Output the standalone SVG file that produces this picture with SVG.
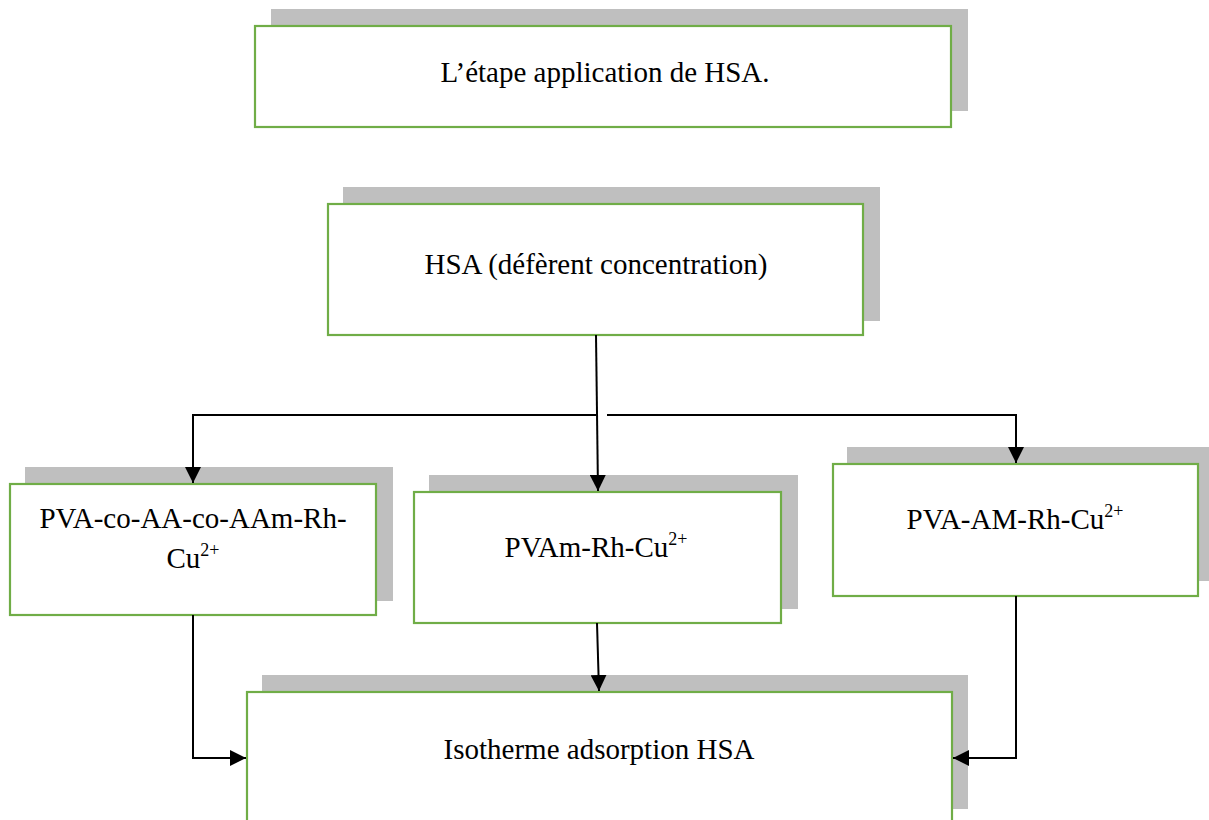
<svg xmlns="http://www.w3.org/2000/svg" width="1209" height="820" viewBox="0 0 1209 820">
<style>
.shadow{fill:#bfbfbf;}
.box{fill:#ffffff;stroke:#70ad47;stroke-width:2.2;}
.lbl{font-family:"Liberation Serif","Times New Roman",serif;font-size:29px;fill:#000000;text-anchor:middle;}
.sup{font-size:18px;}
.conn{fill:none;stroke:#000000;stroke-width:2;}
</style>
<defs>
<marker id="arrow" markerUnits="userSpaceOnUse" markerWidth="16" markerHeight="16" refX="16" refY="8" orient="auto">
<path d="M0,0 L16,8 L0,16 Z" fill="#000000"/>
</marker>
</defs>
<rect width="1209" height="820" fill="#ffffff"/>
<g id="node-etape">
<rect class="shadow" x="271" y="9" width="697" height="102"/>
<rect class="box" x="255" y="26" width="696" height="101"/>
<text class="lbl" x="605" y="82" font-family="Liberation Serif, serif">L’étape application de HSA.</text>
</g>
<g id="node-hsa">
<rect class="shadow" x="343" y="187" width="537" height="134"/>
<rect class="box" x="328" y="204" width="535" height="131"/>
<text class="lbl" x="596" y="274" font-family="Liberation Serif, serif">HSA (défèrent concentration)</text>
</g>
<g id="node-pva-co">
<rect class="shadow" x="25" y="467" width="368" height="134"/>
<rect class="box" x="10" y="484" width="366" height="131"/>
<text class="lbl" x="193" y="528" font-family="Liberation Serif, serif">PVA-co-AA-co-AAm-Rh-</text>
<text class="lbl" x="193" y="568" font-family="Liberation Serif, serif">Cu<tspan class="sup" dy="-12">2+</tspan></text>
</g>
<g id="node-pvam">
<rect class="shadow" x="429" y="475" width="369" height="134"/>
<rect class="box" x="414" y="492" width="367" height="131"/>
<text class="lbl" x="596" y="557" font-family="Liberation Serif, serif">PVAm-Rh-Cu<tspan class="sup" dy="-12">2+</tspan></text>
</g>
<g id="node-pva-am">
<rect class="shadow" x="847" y="447" width="362" height="134"/>
<rect class="box" x="833" y="464" width="365" height="132"/>
<text class="lbl" x="1015" y="529" font-family="Liberation Serif, serif">PVA-AM-Rh-Cu<tspan class="sup" dy="-12">2+</tspan></text>
</g>
<g id="node-isotherme">
<rect class="shadow" x="262" y="675" width="706" height="134"/>
<rect class="box" x="247" y="692" width="705" height="140"/>
<text class="lbl" x="599" y="759" font-family="Liberation Serif, serif">Isotherme adsorption HSA</text>
</g>
<g id="connectors">
<path class="conn" d="M596,335 L598,491" marker-end="url(#arrow)"/>
<path class="conn" d="M596,415 L193,415 L193,483" marker-end="url(#arrow)"/>
<path class="conn" d="M607,415 L1016,415 L1016,463" marker-end="url(#arrow)"/>
<path class="conn" d="M193,615 L193,758 L246,758" marker-end="url(#arrow)"/>
<path class="conn" d="M597,623 L599,691" marker-end="url(#arrow)"/>
<path class="conn" d="M1016,596 L1016,758 L953,758" marker-end="url(#arrow)"/>
</g>
</svg>
